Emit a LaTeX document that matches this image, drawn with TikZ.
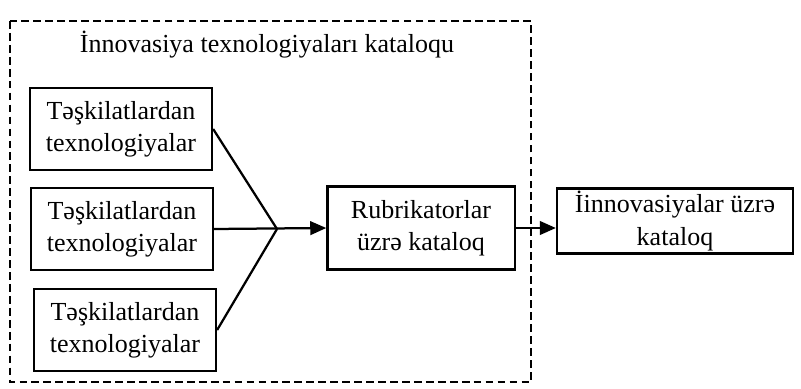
\documentclass[tikz,border=0pt]{standalone}
\usepackage{fontspec}
\setmainfont{Liberation Serif}
\usetikzlibrary{arrows.meta, positioning}
\tikzset{
  box/.style={rectangle, draw, line width=1.6pt, align=center, inner sep=2pt, font=\fontsize{18.5}{23}\selectfont},
  srcbox/.style={box, minimum width=4.55cm, minimum height=2.05cm},
  title/.style={font=\fontsize{18.5}{23}\selectfont, inner sep=0pt},
  frame/.style={line width=1.6pt, dash pattern=on 5.5pt off 3pt},
  link/.style={line width=1.6pt},
  arrow/.style={-{Triangle[length=4mm, width=3.4mm]}, line width=1.6pt},
}

\begin{document}
\begin{tikzpicture}[x=0.025cm, y=-0.025cm]
  \useasboundingbox (0,0) rectangle (801,388);
  % dashed catalogue frame
  \draw[frame] (10,21) rectangle (531,382);
  \node[title] (head) at (267,45) {İnnovasiya texnologiyaları kataloqu};
  % sources
  \node[srcbox] (t1) at (121,129) {Təşkilatlardan\\texnologiyalar};
  \node[srcbox] (t2) at (122,229) {Təşkilatlardan\\texnologiyalar};
  \node[srcbox] (t3) at (125,330) {Təşkilatlardan\\texnologiyalar};
  \coordinate (join) at (277,229);
  \node[box, minimum width=4.68cm, minimum height=2.08cm] (rub) at (421,228) {Rubrikatorlar\\üzrə kataloq};
  \node[box, minimum width=5.9cm, minimum height=1.45cm] (out) at (675,221) {İinnovasiyalar üzrə\\kataloq};
  \draw[link] (t1.east) -- (join);
  \draw[link] (t3.east) -- (join);
  \draw[arrow] (t2.east) -- (rub.west);
  \draw[arrow] (rub.east) -- (rub.east -| out.west);
\end{tikzpicture}
\end{document}
